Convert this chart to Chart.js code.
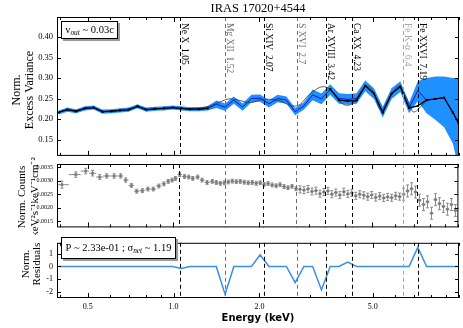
<!DOCTYPE html>
<html>
<head>
<meta charset="utf-8">
<script src="https://cdn.jsdelivr.net/npm/chart.js@4.4.1/dist/chart.umd.min.js"></script>
<style>
  body { margin: 0; background: #fff; width: 463px; height: 328px; position: relative; overflow: hidden; }
  canvas { position: absolute; left: 0; }
</style>
</head>
<body>
<canvas id="fvarChart" width="463" height="165" style="top:0px"></canvas>
<canvas id="countsChart" width="463" height="111" style="top:124px"></canvas>
<canvas id="residChart" width="463" height="94" style="top:234px"></canvas>
<script>
// shared energy axis (keV)
const xMin = 0.39, xMax = 10.03;
const xTickVals = [0.4, 0.5, 0.6, 0.7, 0.8, 0.9, 1, 2, 3, 4, 5, 6, 7, 8, 9, 10];
const xLabelVals = [0.5, 1, 2, 5];

// line markers
const lineE = [1.05, 1.52, 2.07, 2.7, 3.42, 4.23, 6.4, 7.19];
const lineNames = ["Ne X  1.05", "Mg XII  1.52", "Si XIV  2.07", "S XVI  2.7", "Ar XVIII  3.42", "Ca XX  4.23", "Fe K-\u03b1  6.4", "Fe XXVI  7.19"];
const lineColors = ["#000", "#707070", "#000", "#707070", "#000", "#000", "#a8a8a8", "#000"];

// top panel: normalised excess variance
const fvarE = [0.395, 0.424, 0.455, 0.489, 0.524, 0.563, 0.604, 0.648, 0.696, 0.747, 0.802, 0.861, 0.924, 0.992, 1.064, 1.142,
  1.226, 1.316, 1.412, 1.516, 1.627, 1.747, 1.875, 2.012, 2.160, 2.318, 2.488, 2.670, 2.866, 3.076, 3.302, 3.544,
  3.804, 4.083, 4.382, 4.703, 5.048, 5.418, 5.815, 6.242, 6.700, 7.191, 7.718, 8.284, 8.892, 9.544, 10.0];
const fvarLine = [0.216, 0.223, 0.219, 0.226, 0.228, 0.218, 0.219, 0.221, 0.223, 0.231, 0.223, 0.225, 0.226, 0.228, 0.226, 0.224,
  0.224, 0.226, 0.236, 0.229, 0.246, 0.229, 0.250, 0.251, 0.237, 0.250, 0.246, 0.218, 0.232, 0.259, 0.249, 0.272,
  0.250, 0.248, 0.250, 0.281, 0.262, 0.217, 0.262, 0.279, 0.227, 0.269, 0.246, 0.249, 0.252, 0.216, 0.190];
const fvarHi = [0.221, 0.228, 0.224, 0.231, 0.233, 0.223, 0.224, 0.226, 0.228, 0.236, 0.228, 0.230, 0.231, 0.233, 0.231, 0.229,
  0.229, 0.231, 0.245, 0.238, 0.255, 0.238, 0.259, 0.260, 0.246, 0.259, 0.255, 0.227, 0.241, 0.272, 0.262, 0.285,
  0.263, 0.261, 0.263, 0.294, 0.275, 0.230, 0.275, 0.292, 0.240, 0.292, 0.300, 0.304, 0.304, 0.300, 0.300];
const fvarLo = [0.211, 0.218, 0.214, 0.221, 0.223, 0.213, 0.214, 0.216, 0.218, 0.226, 0.218, 0.220, 0.221, 0.223, 0.221, 0.219,
  0.219, 0.221, 0.227, 0.220, 0.237, 0.220, 0.241, 0.242, 0.228, 0.241, 0.237, 0.209, 0.223, 0.246, 0.236, 0.259,
  0.237, 0.235, 0.237, 0.268, 0.249, 0.204, 0.249, 0.266, 0.214, 0.244, 0.214, 0.198, 0.180, 0.140, 0.080];
const fvarData = [0.216, 0.223, 0.219, 0.226, 0.228, 0.218, 0.219, 0.221, 0.223, 0.231, 0.223, 0.225, 0.226, 0.228, 0.226, 0.224,
  0.224, 0.226, null, null, null, null, null, null, null, null, null, null, null, null, null, 0.273,
  0.246, 0.244, 0.245, 0.281, 0.262, 0.216, 0.262, 0.279, 0.227, 0.232, 0.246, 0.249, 0.252, 0.216, 0.190];
const modelE = [1.148, 1.295, 1.461, 1.559, 1.689, 1.86, 2.05, 2.33, 2.70, 3.02, 3.35, 3.63, 3.94, 4.24, 4.70, 4.98, 5.35, 5.74, 6.17, 6.53, 6.92, 7.32, 7.81];
const modelV = [0.226, 0.229, 0.242, 0.249, 0.246, 0.240, 0.248, 0.245, 0.232, 0.262, 0.279, 0.264, 0.236, 0.238, 0.279, 0.270, 0.222, 0.255, 0.279, 0.255, 0.218, 0.228, 0.250];

// middle panel: normalised counts spectrum
const countsE = [0.406, 0.454, 0.492, 0.520, 0.551, 0.583, 0.619, 0.653, 0.680, 0.712, 0.743, 0.778, 0.814, 0.850, 0.889, 0.926,
  0.959, 0.990, 1.017, 1.053, 1.094, 1.132, 1.169, 1.217, 1.261, 1.313,
  1.370, 1.415, 1.462, 1.510, 1.559, 1.610, 1.663, 1.717, 1.774, 1.832, 1.892, 1.954, 2.018, 2.084, 2.152, 2.223,
  2.296, 2.371, 2.448, 2.528, 2.611, 2.697, 2.785, 2.876, 2.971, 3.068, 3.168, 3.272, 3.379, 3.490, 3.604, 3.722,
  3.844, 3.970, 4.100, 4.234, 4.373, 4.516, 4.664, 4.817, 4.975, 5.138, 5.306, 5.480, 5.659, 5.845, 6.036, 6.234,
  6.438, 6.649, 6.867, 7.092, 7.324, 7.564, 7.812, 8.068, 8.332, 8.605, 8.887, 9.178, 9.479, 9.792];
const countsV = [0.00285, 0.00322, 0.00335, 0.00327, 0.00313, 0.00317, 0.00317, 0.00317, 0.00302, 0.00282, 0.00261, 0.00263, 0.00269, 0.00269, 0.00280, 0.00288,
  0.00297, 0.00302, 0.00308, 0.00322, 0.00315, 0.00313, 0.00308, 0.00313, 0.00302, 0.00293,
  0.00297, 0.00293, 0.00290, 0.00292, 0.00295, 0.00298, 0.00296, 0.00297, 0.00294, 0.00292, 0.00293, 0.00290, 0.00292, 0.00286, 0.00289, 0.00284,
  0.00281, 0.00285, 0.00278, 0.00274, 0.00279, 0.00270, 0.00268, 0.00265, 0.00269, 0.00260, 0.00263, 0.00252, 0.00258, 0.00262, 0.00250, 0.00256,
  0.00247, 0.00259, 0.00251, 0.00255, 0.00244, 0.00250, 0.00246, 0.00241, 0.00247, 0.00238, 0.00243, 0.00236, 0.00240, 0.00237, 0.00244, 0.00241,
  0.00250, 0.00262, 0.00270, 0.00258, 0.00228, 0.00212, 0.00222, 0.00180, 0.00230, 0.00215, 0.00205, 0.00195, 0.00212, 0.00190];
const countsErr = [0.00013, 0.00010, 0.00010, 0.00010, 0.00009, 0.00008, 0.00008, 0.00008, 0.00008, 0.00007, 0.00007, 0.00007, 0.00007, 0.00007, 0.00007, 0.00007,
  0.00007, 0.00007, 0.00007, 0.00007, 0.00007, 0.00007, 0.00007, 0.00007, 0.00007, 0.00007,
  0.00007, 0.00007, 0.00007, 0.00007, 0.00007, 0.00007, 0.00007, 0.00007, 0.00007, 0.00007, 0.00007, 0.00007, 0.00007, 0.00007, 0.00007, 0.00007,
  0.00007, 0.00007, 0.00007, 0.00007, 0.00007, 0.00007, 0.00013, 0.00013, 0.00013, 0.00013, 0.00013, 0.00013, 0.00013, 0.00013, 0.00013, 0.00013,
  0.00013, 0.00013, 0.00013, 0.00013, 0.00013, 0.00013, 0.00013, 0.00013, 0.00013, 0.00013, 0.00013, 0.00013, 0.00013, 0.00013, 0.00013, 0.00013,
  0.00022, 0.00022, 0.00022, 0.00022, 0.00022, 0.00022, 0.00022, 0.00022, 0.00022, 0.00022, 0.00022, 0.00022, 0.00022, 0.00022];

// bottom panel: residuals on the fvar grid
const residV = [0, 0, 0, 0, 0, 0, 0, 0, 0, 0, 0, 0, 0, 0, -0.16, 0,
  0, 0, 0, -2.2, 0, 0, 0, 0.93, 0, 0, 0, -1.28, 0, 0, -1.86, 0,
  0, 0.35, 0, 0, 0, 0, 0, 0, 0, 1.52, 0, 0, 0, 0, 0];

const topYTicks = [0.15, 0.20, 0.25, 0.30, 0.35, 0.40];
const midYTicks = [0.0015, 0.0020, 0.0025, 0.0030, 0.0035];
const botYTicks = [-2, -1, 0, 1];

const serif = "Liberation Serif";
const pts = (xs, ys) => xs.map((x, i) => ({ x: x, y: ys[i] }));

function xAxis(show) {
  const axis = {
    type: "logarithmic", min: xMin, max: xMax, display: show,
    grid: { display: false, drawTicks: false }, border: { display: false },
    afterBuildTicks: s => { s.ticks = xLabelVals.map(v => ({ value: v })); },
    ticks: { font: { family: serif, size: 8 }, color: "#000", padding: 4, autoSkip: false, maxRotation: 0,
      callback: v => Number(v).toFixed(1) }
  };
  if (show) axis.afterFit = s => { s.height = 30; };
  return axis;
}

function yAxis(min, max, ticks, size, fmt) {
  return {
    min: min, max: max,
    grid: { display: false, drawTicks: false }, border: { display: false },
    afterBuildTicks: s => { s.ticks = ticks.map(v => ({ value: v })); },
    afterFit: s => { s.width = 57; },
    ticks: { font: { family: serif, size: size }, color: "#000", padding: 4, callback: fmt }
  };
}

function drawFrame(chart) {
  const { ctx, chartArea: a, scales: { x, y } } = chart;
  ctx.save();
  ctx.strokeStyle = "#000";
  ctx.lineWidth = 1;
  ctx.strokeRect(a.left + 0.5, a.top + 0.5, a.width - 1, a.height - 1);
  ctx.beginPath();
  xTickVals.forEach(v => {
    const px = Math.round(x.getPixelForValue(v)) + 0.5;
    const len = xLabelVals.includes(v) ? 5 : 3;
    ctx.moveTo(px, a.top); ctx.lineTo(px, a.top + len);
    ctx.moveTo(px, a.bottom); ctx.lineTo(px, a.bottom - len);
  });
  y.ticks.forEach(t => {
    const py = Math.round(y.getPixelForValue(t.value)) + 0.5;
    ctx.moveTo(a.left, py); ctx.lineTo(a.left + 4, py);
    ctx.moveTo(a.right, py); ctx.lineTo(a.right - 4, py);
  });
  ctx.stroke();
  ctx.restore();
}

function drawLines(chart, withLabels) {
  const { ctx, chartArea: a, scales: { x } } = chart;
  ctx.save();
  ctx.lineWidth = 1;
  lineE.forEach((e, i) => {
    const px = Math.round(x.getPixelForValue(e)) + 0.5;
    ctx.strokeStyle = lineColors[i];
    ctx.setLineDash([4, 3]);
    ctx.beginPath(); ctx.moveTo(px, a.top); ctx.lineTo(px, a.bottom); ctx.stroke();
    if (withLabels) {
      ctx.setLineDash([]);
      ctx.save();
      ctx.translate(px + 1.5, a.top + 6);
      ctx.rotate(Math.PI / 2);
      ctx.fillStyle = lineColors[i];
      ctx.font = "9.5px " + serif;
      ctx.textAlign = "left";
      ctx.textBaseline = "alphabetic";
      ctx.fillText(lineNames[i], 0, 0);
      ctx.restore();
    }
  });
  ctx.restore();
}

function yTitle(ctx, lines, xs, cy, size) {
  ctx.save();
  ctx.fillStyle = "#000";
  ctx.font = size + "px " + serif;
  ctx.textAlign = "center";
  ctx.textBaseline = "middle";
  lines.forEach((t, i) => {
    ctx.save();
    ctx.translate(xs[i], cy);
    ctx.rotate(-Math.PI / 2);
    ctx.fillText(t, 0, 0);
    ctx.restore();
  });
  ctx.restore();
}

// text with subscripts inside a box with a drop shadow
function noteBox(ctx, parts, bx, by, bw, bh, size) {
  ctx.save();
  ctx.fillStyle = "#9a9a9a";
  ctx.fillRect(bx + 2, by + 2, bw, bh);
  ctx.fillStyle = "#fff";
  ctx.fillRect(bx, by, bw, bh);
  ctx.strokeStyle = "#000";
  ctx.lineWidth = 1;
  ctx.strokeRect(bx + 0.5, by + 0.5, bw - 1, bh - 1);
  const fonts = parts.map(p => p[1] ? "italic " + (size * 0.7) + "px " + serif : size + "px " + serif);
  let w = 0;
  parts.forEach((p, i) => { ctx.font = fonts[i]; w += ctx.measureText(p[0]).width; });
  let tx = bx + (bw - w) / 2;
  const base = by + bh / 2 + size * 0.33;
  ctx.fillStyle = "#000";
  ctx.textBaseline = "alphabetic";
  parts.forEach((p, i) => {
    ctx.font = fonts[i];
    ctx.fillText(p[0], tx, p[1] ? base + 2 : base);
    tx += ctx.measureText(p[0]).width;
  });
  ctx.restore();
}

// Excess variance panel (higher order = drawn further back)
new Chart(document.getElementById("fvarChart").getContext("2d"), {
  type: "line",
  data: {
    datasets: [
      { data: pts(fvarE, fvarHi), order: 5, borderWidth: 0, pointRadius: 0, fill: "+1", backgroundColor: "#1e90ff" },
      { data: pts(fvarE, fvarLo), order: 5, borderWidth: 0, pointRadius: 0, fill: false },
      { data: pts(fvarE, fvarLine), order: 3, borderColor: "#1414c8", borderWidth: 1, pointRadius: 0, fill: false },
      { data: pts(modelE, modelV), order: 2, borderColor: "#333", borderWidth: 0.8, pointRadius: 0, tension: 0.4, fill: false },
      { data: pts(fvarE, fvarData), order: 1, borderColor: "#000", borderWidth: 1.3, pointStyle: "rect", pointRadius: 1.5,
        pointBackgroundColor: "#000", pointBorderWidth: 0, fill: false, spanGaps: false }
    ]
  },
  options: {
    responsive: false, animation: false, devicePixelRatio: 1,
    layout: { padding: { top: 17, bottom: 1, left: 0, right: 4 } },
    plugins: { legend: { display: false }, tooltip: { enabled: false } },
    scales: { x: xAxis(false), y: yAxis(0.11, 0.449, topYTicks, 8.5, v => Number(v).toFixed(2)) }
  },
  plugins: [{
    id: "fvarDecor",
    afterDatasetsDraw: c => drawLines(c, true),
    afterDraw: c => {
      drawFrame(c);
      const ctx = c.ctx;
      ctx.save();
      ctx.fillStyle = "#000";
      ctx.font = "12.5px " + serif;
      ctx.textAlign = "center";
      ctx.textBaseline = "middle";
      ctx.fillText("IRAS 17020+4544", (c.chartArea.left + c.chartArea.right) / 2, 9);
      ctx.restore();
      yTitle(ctx, ["Norm.", "Excess Variance"], [17, 29.5], 90, 12);
      noteBox(ctx, [["v", false], ["out", true], [" ~ 0.03c", false]], 61, 21, 57, 18, 10.5);
    }
  }]
});

// Counts spectrum panel (canvas starts 40px above the panel so the long axis title fits)
new Chart(document.getElementById("countsChart").getContext("2d"), {
  type: "scatter",
  data: {
    datasets: [
      { data: pts(countsE, countsV), pointStyle: "rect", pointRadius: 1.4, backgroundColor: "#8a8a8a", borderColor: "#6a6a6a", borderWidth: 0.6 }
    ]
  },
  options: {
    responsive: false, animation: false, devicePixelRatio: 1,
    layout: { padding: { top: 40, bottom: 1, left: 0, right: 4 } },
    plugins: { legend: { display: false }, tooltip: { enabled: false } },
    scales: { x: xAxis(false), y: yAxis(0.00128, 0.00361, midYTicks, 6, v => Number(v).toFixed(4)) }
  },
  plugins: [{
    id: "countsDecor",
    beforeDatasetsDraw: c => {
      const { ctx, chartArea: a, scales: { x, y } } = c;
      ctx.save();
      ctx.beginPath(); ctx.rect(a.left, a.top, a.width, a.height); ctx.clip();
      ctx.strokeStyle = "#8c8c8c";
      ctx.lineWidth = 1;
      ctx.beginPath();
      const n = countsE.length;
      countsE.forEach((e, i) => {
        const px = x.getPixelForValue(e), py = y.getPixelForValue(countsV[i]);
        const r = i < n - 1 ? (x.getPixelForValue(countsE[i + 1]) - px) / 2 : null;
        const l = i > 0 ? (px - x.getPixelForValue(countsE[i - 1])) / 2 : r;
        const hw = [l, r === null ? l : r];
        const top = y.getPixelForValue(countsV[i] + countsErr[i]);
        const bot = y.getPixelForValue(countsV[i] - countsErr[i]);
        ctx.moveTo(px - hw[0], py); ctx.lineTo(px + hw[1], py);
        ctx.moveTo(px, top); ctx.lineTo(px, bot);
        ctx.moveTo(px - 1.5, top); ctx.lineTo(px + 1.5, top);
        ctx.moveTo(px - 1.5, bot); ctx.lineTo(px + 1.5, bot);
      });
      ctx.stroke();
      ctx.restore();
    },
    afterDatasetsDraw: c => drawLines(c, false),
    afterDraw: c => {
      drawFrame(c);
      yTitle(c.ctx, ["Norm. Counts", "keV\u00b2s\u207b\u00b9keV\u207b\u00b9cm\u207b\u00b2"], [22, 35.5], 73, 11);
    }
  }]
});

// Residuals panel
new Chart(document.getElementById("residChart").getContext("2d"), {
  type: "line",
  data: {
    datasets: [
      { data: pts(fvarE, residV), borderColor: "#3a8ee6", borderWidth: 1.5, pointRadius: 0, fill: false }
    ]
  },
  options: {
    responsive: false, animation: false, devicePixelRatio: 1,
    layout: { padding: { top: 0, bottom: 0, left: 0, right: 4 } },
    plugins: { legend: { display: false }, tooltip: { enabled: false } },
    scales: { x: xAxis(true), y: yAxis(-2.5, 1.88, botYTicks, 8, v => String(v)) }
  },
  plugins: [{
    id: "residDecor",
    afterDatasetsDraw: c => drawLines(c, false),
    afterDraw: c => {
      drawFrame(c);
      const ctx = c.ctx;
      yTitle(ctx, ["Norm.", "Residuals"], [26, 37.5], 30, 11);
      noteBox(ctx, [["P ~ 2.33e-01 ; \u03c3", false], ["net", true], [" ~ 1.19", false]], 61, 3, 115, 22, 10.5);
      ctx.save();
      ctx.fillStyle = "#000";
      ctx.font = "bold 10px DejaVu Sans";
      ctx.textAlign = "center";
      ctx.textBaseline = "middle";
      ctx.fillText("Energy (keV)", (c.chartArea.left + c.chartArea.right) / 2, 84);
      ctx.restore();
    }
  }]
});
</script>
</body>
</html>
